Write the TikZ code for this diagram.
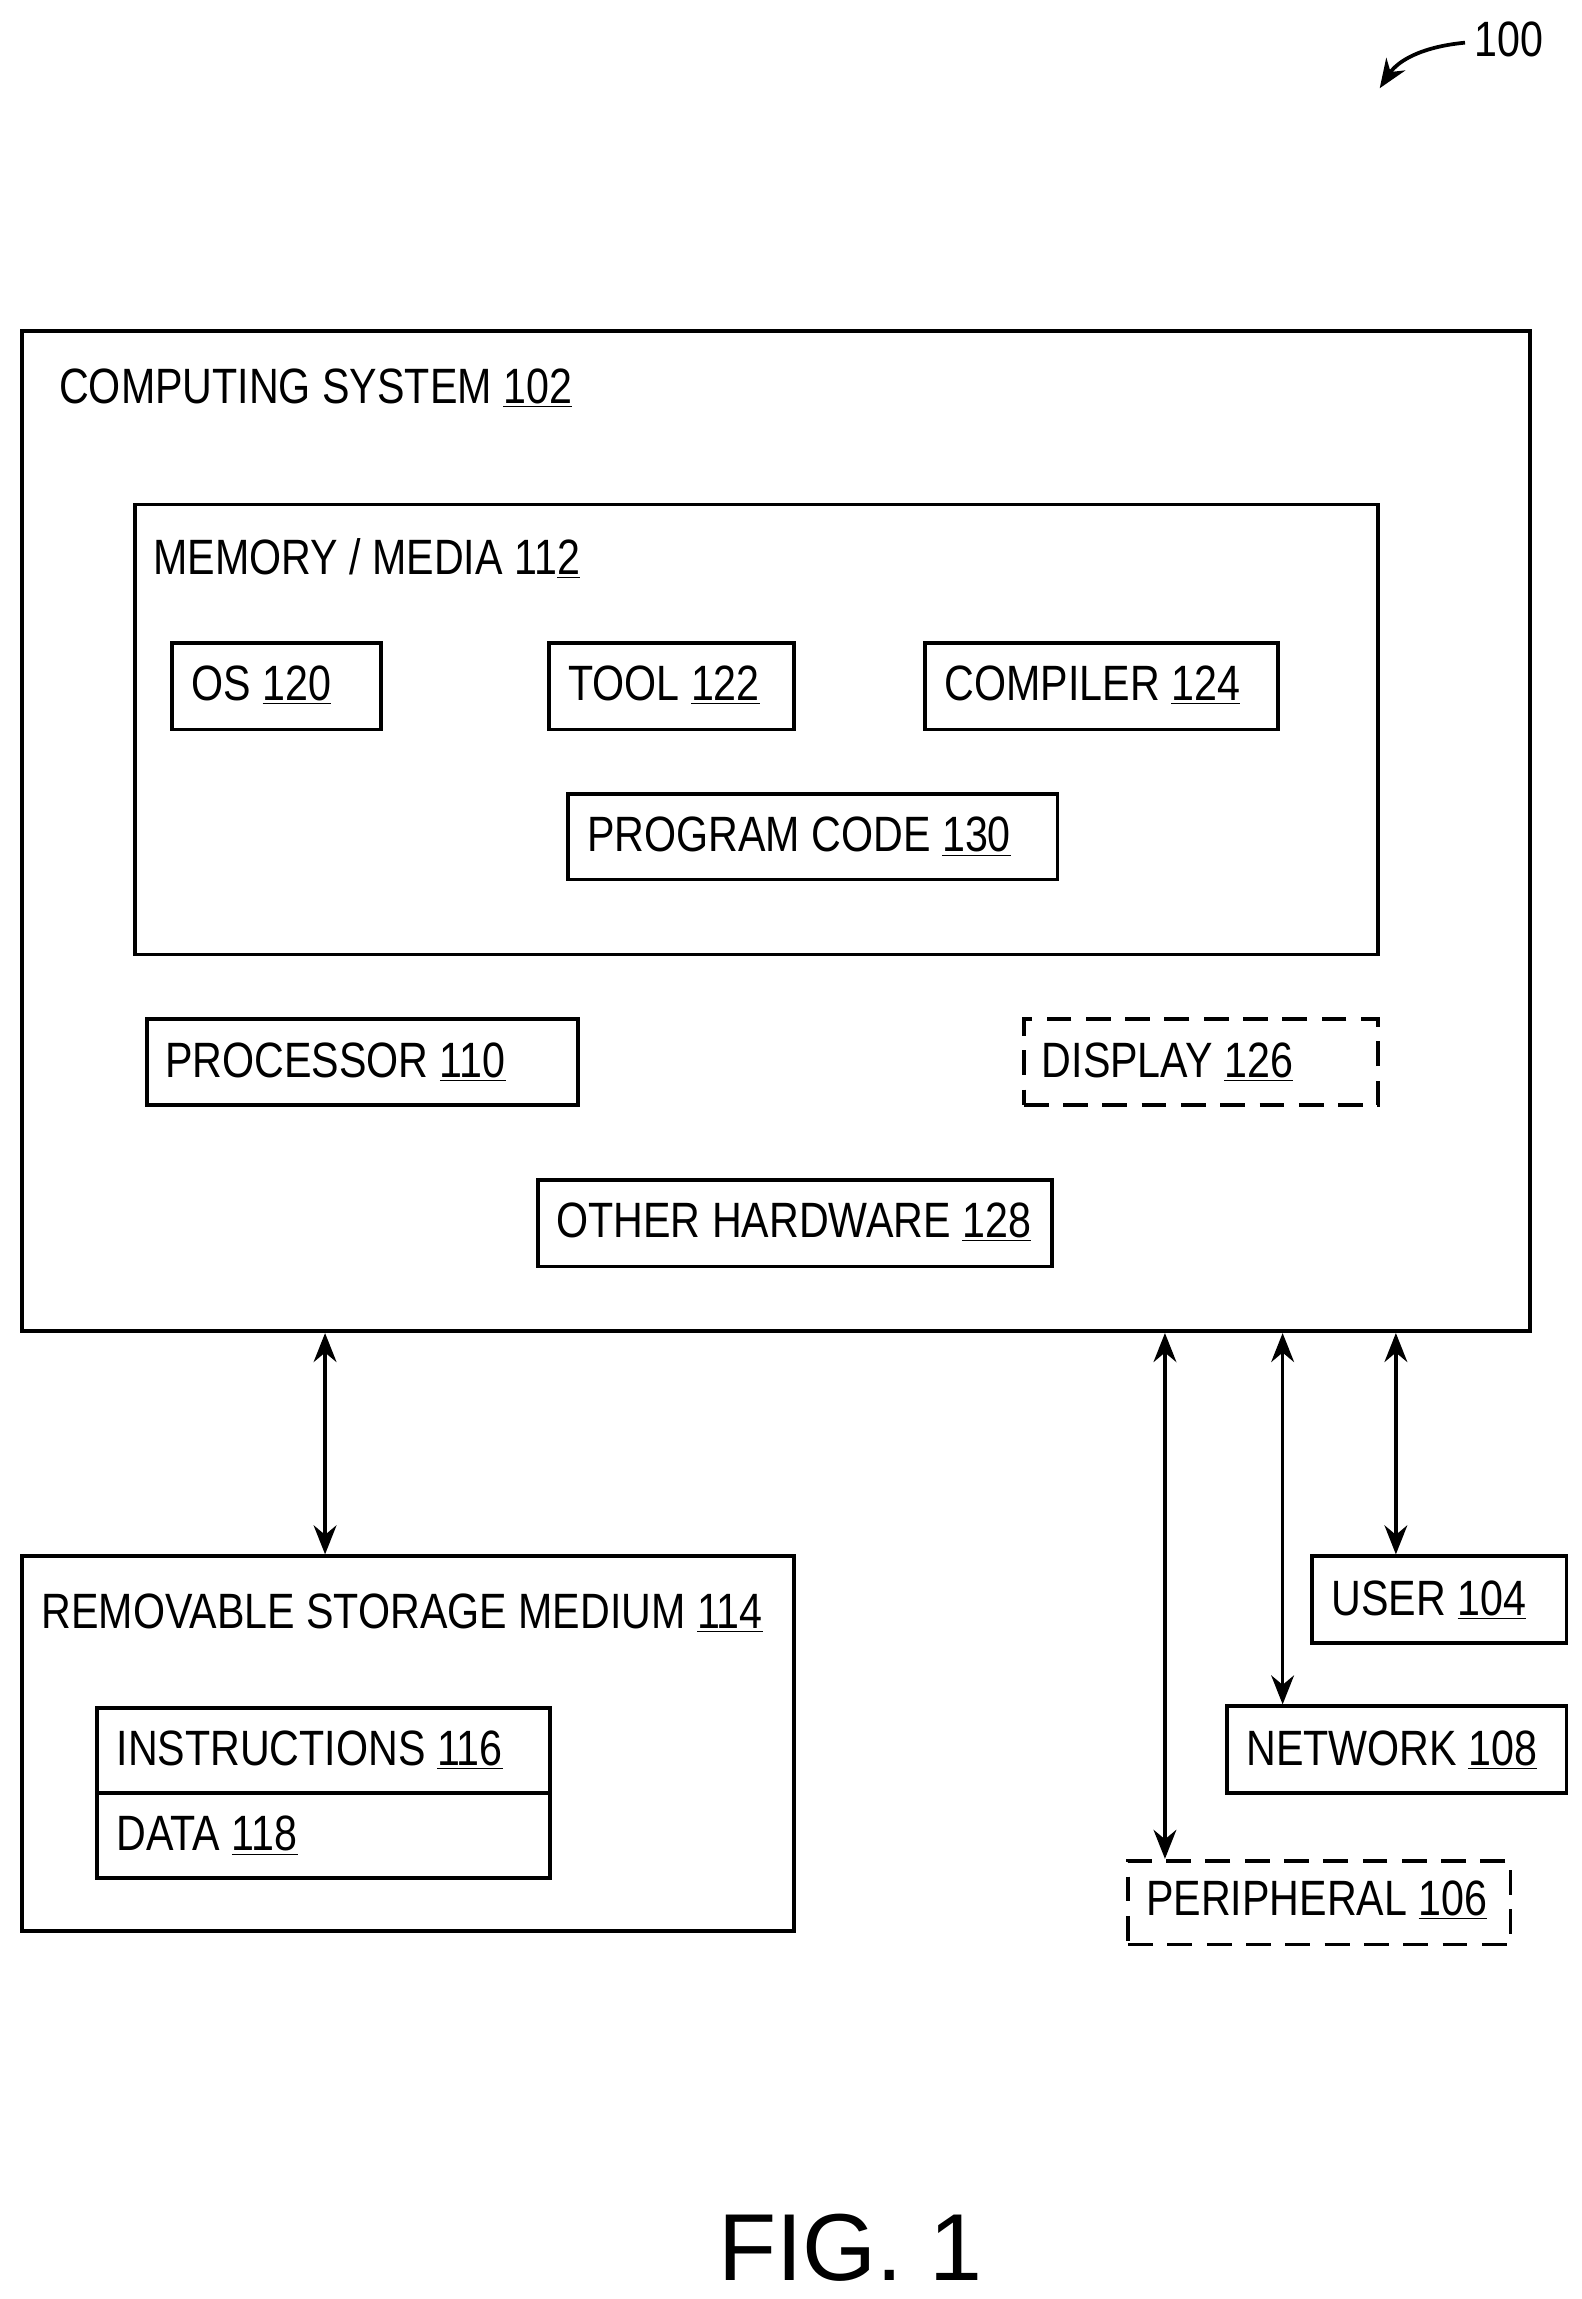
\documentclass[tikz,border=0pt]{standalone}
\usepackage{fontspec}
\setmainfont{Liberation Sans}[FakeStretch=0.83]
\newfontfamily\figfont{Liberation Sans}
\usetikzlibrary{arrows.meta, positioning, fit}

\begin{document}
\begin{tikzpicture}[
    x=0.025cm, y=-0.025cm,
    every node/.style={font=\fontsize{24}{28}\selectfont},
    box/.style={rectangle, draw, line width=1.8pt, inner sep=0pt},
    dbox/.style={box, dashed, dash pattern=on 12pt off 7pt},
    title/.style={anchor=west, inner sep=0pt},
    arrow/.style={{Stealth[length=14pt,width=11pt]}-{Stealth[length=14pt,width=11pt]}, line width=1.8pt}
]
    \useasboundingbox (0,0) rectangle (1075,1563);

    % Computing system
    \node[box, fit={(15,225) (1040,905)}] (system) {};
    \node[title] at (40,264) {COMPUTING SYSTEM \underline{102}};

    % Memory and its contents
    \node[box, fit={(92,343) (937,649)}] (memory) {};
    \node[title] at (104,380) {MEMORY / MEDIA 11\underline{2}};
    \node[box, fit={(117,437) (259,496)}] (os) {};
    \node[title] at (130,466) {OS \underline{120}};
    \node[box, fit={(373,437) (540,496)}] (tool) {};
    \node[title] at (386,466) {TOOL \underline{122}};
    \node[box, fit={(629,437) (869,496)}] (compiler) {};
    \node[title] at (642,466) {COMPILER \underline{124}};
    \node[box, fit={(386,540) (719,598)}] (code) {};
    \node[title] at (399,569) {PROGRAM CODE \underline{130}};

    % Hardware
    \node[box, fit={(100,693) (393,751)}] (processor) {};
    \node[title] at (112,722) {PROCESSOR \underline{110}};
    \node[dbox, fit={(696,693) (937,751)}] (display) {};
    \node[title] at (708,722) {DISPLAY \underline{126}};
    \node[box, fit={(366,802) (715,861)}] (hardware) {};
    \node[title] at (378,831) {OTHER HARDWARE \underline{128}};

    % Removable storage
    \node[box, fit={(15,1058) (540,1313)}] (storage) {};
    \node[title] at (28,1097) {REMOVABLE STORAGE MEDIUM \underline{114}};
    \node[box, fit={(66,1161) (374,1219)}] (instr) {};
    \node[title] at (79,1190) {INSTRUCTIONS \underline{116}};
    \node[box, fit={(66,1219) (374,1277)}] (data) {};
    \node[title] at (79,1248) {DATA \underline{118}};

    % External
    \node[box, fit={(892,1058) (1065,1117)}] (user) {};
    \node[title] at (905,1088) {USER \underline{104}};
    \node[box, fit={(834,1160) (1065,1219)}] (network) {};
    \node[title] at (847,1190) {NETWORK \underline{108}};
    \node[dbox, fit={(767,1265) (1027,1322)}] (peripheral) {};
    \node[title] at (779,1292) {PERIPHERAL \underline{106}};

    % Connections
    \draw[arrow] (system.south -| 221,0) -- (storage.north -| 221,0);
    \draw[arrow] (system.south -| 792,0) -- (peripheral.north -| 792,0);
    \draw[arrow] (system.south -| 872,0) -- (network.north -| 872,0);
    \draw[arrow] (system.south -| 949,0) -- (user.north -| 949,0);

    % Reference numeral and caption
    \node[title] (ref) at (1002,27) {100};
    \draw[-{Stealth[length=14pt,width=11pt]}, line width=1.8pt] (ref.west) ++(-6,2) .. controls (965,32) and (950,42) .. (938,60);
    \node[font=\figfont\fontsize{46}{50}\selectfont] (fig) at (578,1528) {FIG. 1};
\end{tikzpicture}
\end{document}
